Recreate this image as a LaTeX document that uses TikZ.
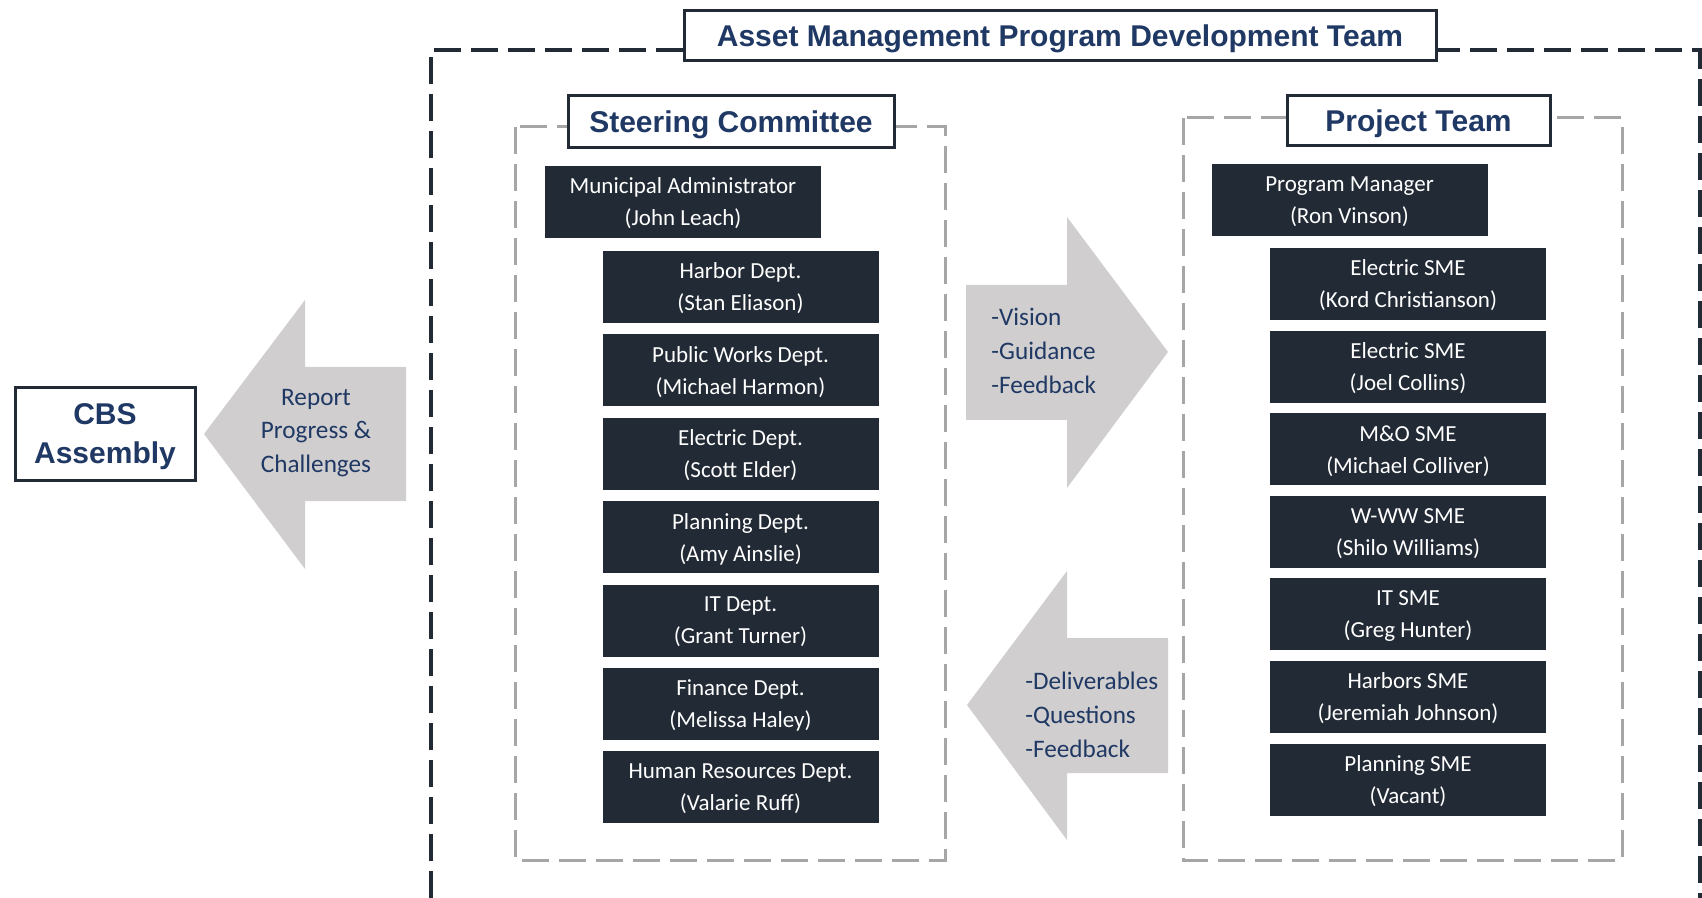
\documentclass[tikz,border=0pt]{standalone}
\usepackage{fontspec}
\setmainfont{Carlito}
\newfontfamily\headfont{Liberation Sans}
\usetikzlibrary{positioning}

\definecolor{boxdark}{HTML}{222A35}
\definecolor{navy}{HTML}{1F3864}
\definecolor{arrowgray}{HTML}{D0CECE}
\definecolor{linegray}{HTML}{A6A6A6}

\begin{document}
\begin{tikzpicture}[x=0.5pt,y=-0.5pt,
	member/.style={rectangle, fill=boxdark, text=white, minimum width=138pt,
	minimum height=36pt, inner sep=0pt, align=center, text depth=0pt,
	font=\fontsize{11.5}{16}\selectfont},
	heading/.style={rectangle, draw=boxdark, line width=1.5pt, fill=white,
	text=navy, inner sep=0pt, align=center, text depth=0pt,
	font=\headfont\bfseries\fontsize{15}{19.5}\selectfont},
	group/.style={draw=linegray, line width=1.5pt, dash pattern=on 13.5pt off 5pt},
	flow/.style={fill=arrowgray},
	flowtext/.style={text=navy, inner sep=0pt, font=\fontsize{12.6}{16.85}\selectfont}]

\useasboundingbox (0,0) rectangle (1702,898);

% outer frame
\draw[boxdark, line width=2pt, dash pattern=on 13.5pt off 5pt]
	(431,898) -- (431,50) -- (1700,50) -- (1700,898);
\node[heading, minimum width=376pt, minimum height=25pt] (team) at (1060,36)
	{Asset Management Program Development Team};

% groups
\draw[group] (515,127) rectangle (945,860);
\draw[group] (1183,118) rectangle (1622,860);
\node[heading, minimum width=163pt, minimum height=26pt] (steer) at (731,122) {Steering Committee};
\node[heading, minimum width=131.5pt, minimum height=25pt] (proj) at (1418.5,121) {Project Team};

\node[heading, minimum width=90pt, minimum height=46pt] (cbs) at (105,434) {CBS\\Assembly};

% block arrows
\fill[flow] (406,367) -- (305,367) -- (305,300) -- (204,434) -- (305,569)
	-- (305,501) -- (406,501) -- cycle;
\fill[flow] (966,285) -- (1067,285) -- (1067,217) -- (1168,352) -- (1067,488)
	-- (1067,420) -- (966,420) -- cycle;
\fill[flow] (1168,638) -- (1067,638) -- (1067,571) -- (967,705) -- (1067,840)
	-- (1067,773) -- (1168,773) -- cycle;
\node[flowtext, align=center] (report) at (316,433) {Report\\Progress \&\\Challenges};
\node[flowtext, align=left, anchor=west] (vision) at (991,351) {-Vision\\-Guidance\\-Feedback};
\node[flowtext, align=left, anchor=west] (deliver) at (1025,715) {-Deliverables\\-Questions\\-Feedback};

% steering committee
\node[member] (admin) at (683,202) {Municipal Administrator\\(John Leach)};
\begin{scope}[node distance=5.3pt]
\node[member] (harbor) at (740.5,287) {Harbor Dept.\\(Stan Eliason)};
\node[member, below=of harbor] (works) {Public Works Dept.\\(Michael Harmon)};
\node[member, below=of works] (elec) {Electric Dept.\\(Scott Elder)};
\node[member, below=of elec] (plan) {Planning Dept.\\(Amy Ainslie)};
\node[member, below=of plan] (itdept) {IT Dept.\\(Grant Turner)};
\node[member, below=of itdept] (fin) {Finance Dept.\\(Melissa Haley)};
\node[member, below=of fin] (hr) {Human Resources Dept.\\(Valarie Ruff)};
\end{scope}

% project team
\node[member] (pm) at (1349.5,200) {Program Manager\\(Ron Vinson)};
\begin{scope}[node distance=4.9pt]
\node[member] (sme1) at (1408,284) {Electric SME\\(Kord Christianson)};
\node[member, below=of sme1] (sme2) {Electric SME\\(Joel Collins)};
\node[member, below=of sme2] (smemo) {M\&O SME\\(Michael Colliver)};
\node[member, below=of smemo] (smeww) {W-WW SME\\(Shilo Williams)};
\node[member, below=of smeww] (smeit) {IT SME\\(Greg Hunter)};
\node[member, below=of smeit] (smeharb) {Harbors SME\\(Jeremiah Johnson)};
\node[member, below=of smeharb] (smeplan) {Planning SME\\(Vacant)};
\end{scope}
\end{tikzpicture}
\end{document}
